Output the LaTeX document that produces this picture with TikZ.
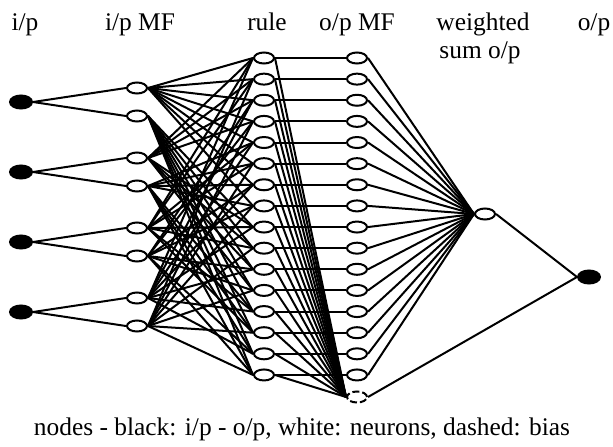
\documentclass[tikz,border=0pt]{standalone}
\usepackage{fontspec}
\setmainfont{Liberation Serif}
\usetikzlibrary{shapes.geometric}

\begin{document}
\begin{tikzpicture}[x=1pt,y=-1pt,line width=2pt,
  ionode/.style={ellipse,draw=black,fill=black,minimum width=22pt,minimum height=13pt,inner sep=0pt},
  neuron/.style={ellipse,draw=black,fill=white,minimum width=20pt,minimum height=11pt,inner sep=0pt},
  biasnode/.style={neuron,dash pattern=on 7pt off 3pt},
  lab/.style={font=\fontsize{25.4}{28}\selectfont,anchor=base,inner sep=0pt}]
\useasboundingbox (0,0) rectangle (613,447);

% layer labels
\node[lab] (tin) at (25,30) {i/p};
\node[lab] (tmf) at (140,30) {i/p MF};
\node[lab] (trule) at (267,30) {rule};
\node[lab] (tomf) at (357,30) {o/p MF};
\node[lab] (tws) at (483,30) {weighted};
\node[lab] (tws2) at (480,58) {sum o/p};
\node[lab] (tout) at (594,30) {o/p};

% inputs and their MFs
\foreach \i in {1,...,4} {
  \node[ionode] (in\i) at (21,{32+70*\i}) {};
  \node[neuron] (mf\i-0) at (137,{18+70*\i}) {};
  \node[neuron] (mf\i-1) at (137,{46+70*\i}) {};
  \draw (in\i.east) -- (mf\i-0.west);
  \draw (in\i.east) -- (mf\i-1.west);
}

% rules and o/p MFs
\foreach \k in {0,...,15} {
  \node[neuron] (rule\k) at (264,{58+21.13*\k}) {};
  \node[neuron] (omf\k) at (357,{58+21.13*\k}) {};
}
\node[biasnode] (bias) at (357,397) {};
\node[neuron] (ws) at (485,214) {};
\node[ionode] (out) at (589,277) {};

\foreach \k in {0,...,15} {
  \foreach \i/\d in {1/8,2/4,3/2,4/1} {
    \pgfmathtruncatemacro{\b}{mod(floor(\k/\d),2)}
    \draw (mf\i-\b.east) -- (rule\k.west);
  }
  \draw (rule\k.east) -- (omf\k.west);
  \draw (rule\k.east) -- (bias.west);
  \draw (omf\k.east) -- (ws.west);
}
\draw (ws.east) -- (out.west);
\draw (bias.east) -- (out.west);

\node[lab] (legend) at (302,435) {nodes - black: i/p - o/p, white: neurons, dashed: bias};
\end{tikzpicture}
\end{document}
